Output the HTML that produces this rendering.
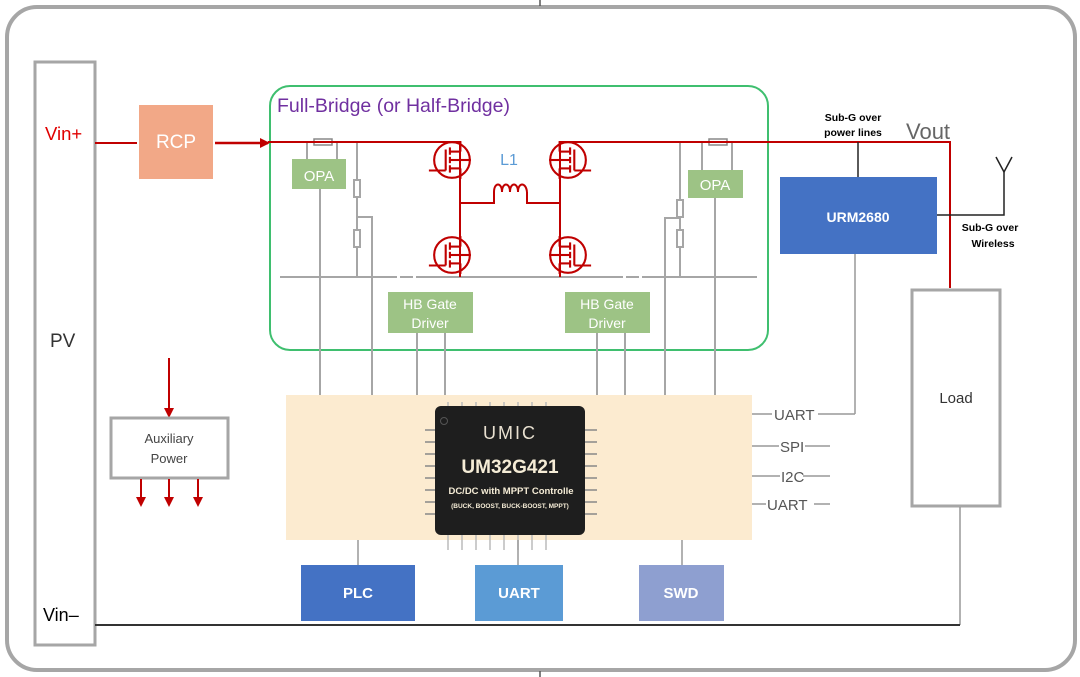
<!DOCTYPE html>
<html><head><meta charset="utf-8"><style>
html,body{margin:0;padding:0;background:#fff;}
svg{display:block;font-family:"Liberation Sans",sans-serif;}
</style></head><body>
<svg width="1080" height="677" viewBox="0 0 1080 677" xmlns="http://www.w3.org/2000/svg">
<defs>
<marker id="ar" markerWidth="10" markerHeight="10" refX="8" refY="5" orient="auto" markerUnits="userSpaceOnUse"><path d="M0,0 L10,5 L0,10 Z" fill="#c00000"/></marker>
<g id="mos" stroke="#c00000" stroke-width="2" fill="none">
<circle cx="0" cy="0" r="17"/>
<line x1="-6" y1="-10" x2="-6" y2="10"/>
<line x1="-2" y1="-12" x2="-2" y2="-5"/><line x1="-2" y1="-3" x2="-2" y2="3"/><line x1="-2" y1="5" x2="-2" y2="12"/>
<line x1="-2" y1="-8" x2="8" y2="-8"/><line x1="-2" y1="8" x2="8" y2="8"/><line x1="-2" y1="0" x2="8" y2="0"/>
<line x1="-6" y1="10" x2="-22" y2="10"/>
<line x1="8" y1="-8" x2="8" y2="-18"/><line x1="8" y1="8" x2="8" y2="18"/><line x1="8" y1="0" x2="18" y2="0"/>
</g>
</defs>
<rect x="7" y="7" width="1068" height="663" rx="30" fill="none" stroke="#a6a6a6" stroke-width="4"/>
<line x1="540" y1="0" x2="540" y2="6" stroke="#555" stroke-width="1.5"/>
<line x1="540" y1="671" x2="540" y2="677" stroke="#555" stroke-width="1.5"/>
<rect x="35" y="62" width="60" height="583" fill="none" stroke="#a6a6a6" stroke-width="3"/>
<text x="50" y="347" font-size="19" fill="#333">PV</text>
<text x="45" y="140" font-size="18.5" fill="#e00000">Vin+</text>
<text x="43" y="621" font-size="18" fill="#000">Vin–</text>
<line x1="95" y1="143" x2="137" y2="143" stroke="#c00000" stroke-width="2"/>
<rect x="139" y="105" width="74" height="74" fill="#f2a887"/>
<text x="176" y="148" font-size="19" fill="#fff" text-anchor="middle">RCP</text>
<line x1="215" y1="143" x2="268" y2="143" stroke="#c00000" stroke-width="2.5" marker-end="url(#ar)"/>
<rect x="270" y="86" width="498" height="264" rx="20" fill="none" stroke="#3fbf6f" stroke-width="2"/>
<text x="277" y="112" font-size="19.5" fill="#7030a0">Full-Bridge (or Half-Bridge)</text>
<g stroke="#a6a6a6" stroke-width="2" fill="none">
<line x1="280" y1="277" x2="397" y2="277"/><line x1="400" y1="277" x2="413" y2="277"/><line x1="416" y1="277" x2="623" y2="277"/><line x1="626" y1="277" x2="639" y2="277"/><line x1="642" y1="277" x2="757" y2="277"/>
<line x1="307" y1="142" x2="307" y2="159"/><line x1="337" y1="142" x2="337" y2="159"/>
<line x1="357" y1="142" x2="357" y2="180"/><rect x="354" y="180" width="6" height="17"/>
<line x1="357" y1="197" x2="357" y2="230"/><rect x="354" y="230" width="6" height="17"/>
<line x1="357" y1="247" x2="357" y2="277"/>
<polyline points="357,217 372,217 372,395"/>
<line x1="320" y1="189" x2="320" y2="395"/>
<line x1="417" y1="333" x2="417" y2="395"/><line x1="445" y1="333" x2="445" y2="395"/>
<line x1="597" y1="333" x2="597" y2="395"/><line x1="625" y1="333" x2="625" y2="395"/>
<line x1="702" y1="142" x2="702" y2="170"/><line x1="732" y1="142" x2="732" y2="170"/>
<line x1="680" y1="142" x2="680" y2="200"/><rect x="677" y="200" width="6" height="17"/>
<line x1="680" y1="217" x2="680" y2="230"/><rect x="677" y="230" width="6" height="17"/>
<line x1="680" y1="247" x2="680" y2="277"/>
<polyline points="680,218 665,218 665,395"/>
<line x1="715" y1="198" x2="715" y2="395"/>
</g>
<rect x="314" y="139" width="18" height="6" fill="#fff" stroke="#888" stroke-width="1.5"/>
<rect x="709" y="139" width="18" height="6" fill="#fff" stroke="#888" stroke-width="1.5"/>
<rect x="292" y="159" width="54" height="30" fill="#9dc385"/>
<text x="319" y="181" font-size="15" fill="#fff" text-anchor="middle">OPA</text>
<rect x="688" y="170" width="55" height="28" fill="#9dc385"/>
<text x="715" y="190" font-size="15" fill="#fff" text-anchor="middle">OPA</text>
<rect x="388" y="292" width="85" height="41" fill="#9dc385"/>
<text x="430" y="309" font-size="14" fill="#fff" text-anchor="middle">HB Gate</text>
<text x="430" y="328" font-size="14" fill="#fff" text-anchor="middle">Driver</text>
<rect x="565" y="292" width="85" height="41" fill="#9dc385"/>
<text x="607" y="309" font-size="14" fill="#fff" text-anchor="middle">HB Gate</text>
<text x="607" y="328" font-size="14" fill="#fff" text-anchor="middle">Driver</text>
<g stroke="#c00000" stroke-width="2" fill="none">
<polyline points="268,142 460,142 460,277"/>
<polyline points="560,277 560,142 950,142 950,288"/>
<polyline points="460,203 494,203 494,192"/>
<polyline points="527,192 527,203 560,203"/>
<path d="M494,192 c0,-10 8,-10 8,0 c0,-10 8,-10 8,0 c0,-10 8,-10 8,0 c0,-10 8,-10 9,0"/>
</g>
<use href="#mos" transform="translate(452,160) scale(1.05)"/>
<use href="#mos" transform="translate(452,255) scale(1.05)"/>
<use href="#mos" transform="translate(568,160) scale(-1.05,1.05)"/>
<use href="#mos" transform="translate(568,255) scale(-1.05,1.05)"/>
<text x="509" y="165" font-size="16" fill="#5b9bd5" text-anchor="middle">L1</text>
<rect x="286" y="395" width="466" height="145" fill="#fcebd0"/>
<g stroke="#bbb" stroke-width="1.5">
<line x1="448" y1="402" x2="448" y2="406"/><line x1="462" y1="402" x2="462" y2="406"/><line x1="476" y1="402" x2="476" y2="406"/><line x1="490" y1="402" x2="490" y2="406"/><line x1="504" y1="402" x2="504" y2="406"/><line x1="518" y1="402" x2="518" y2="406"/><line x1="532" y1="402" x2="532" y2="406"/><line x1="546" y1="402" x2="546" y2="406"/>
<line x1="448" y1="535" x2="448" y2="550"/><line x1="462" y1="535" x2="462" y2="550"/><line x1="476" y1="535" x2="476" y2="550"/><line x1="490" y1="535" x2="490" y2="550"/><line x1="504" y1="535" x2="504" y2="550"/><line x1="518" y1="535" x2="518" y2="550"/><line x1="532" y1="535" x2="532" y2="550"/><line x1="546" y1="535" x2="546" y2="550"/>
</g>
<g stroke="#888" stroke-width="1.5">
<line x1="425" y1="430" x2="435" y2="430"/><line x1="425" y1="442" x2="435" y2="442"/><line x1="425" y1="454" x2="435" y2="454"/><line x1="425" y1="466" x2="435" y2="466"/><line x1="425" y1="478" x2="435" y2="478"/><line x1="425" y1="490" x2="435" y2="490"/><line x1="425" y1="502" x2="435" y2="502"/><line x1="425" y1="514" x2="435" y2="514"/>
<line x1="585" y1="430" x2="597" y2="430"/><line x1="585" y1="442" x2="597" y2="442"/><line x1="585" y1="454" x2="597" y2="454"/><line x1="585" y1="466" x2="597" y2="466"/><line x1="585" y1="478" x2="597" y2="478"/><line x1="585" y1="490" x2="597" y2="490"/><line x1="585" y1="502" x2="597" y2="502"/><line x1="585" y1="514" x2="597" y2="514"/>
</g>
<rect x="435" y="406" width="150" height="129" rx="6" fill="#1e1e1e"/>
<circle cx="444" cy="421" r="3.5" fill="none" stroke="#555"/>
<text x="510" y="439" font-size="18" fill="#e8e0d0" text-anchor="middle" letter-spacing="2">UMIC</text>
<text x="510" y="473" font-size="19" font-weight="bold" fill="#f5ecd6" text-anchor="middle">UM32G421</text>
<text x="511" y="494" font-size="9.5" font-weight="bold" fill="#f5ecd6" text-anchor="middle">DC/DC with MPPT Controlle</text>
<text x="510" y="508" font-size="6.5" font-weight="bold" fill="#f5ecd6" text-anchor="middle">(BUCK, BOOST, BUCK-BOOST, MPPT)</text>
<g stroke="#999" stroke-width="1.5">
<line x1="752" y1="414" x2="772" y2="414"/><line x1="818" y1="414" x2="855" y2="414"/><line x1="855" y1="414" x2="855" y2="254"/>
<line x1="752" y1="446" x2="779" y2="446"/><line x1="805" y1="446" x2="830" y2="446"/>
<line x1="752" y1="476" x2="780" y2="476"/><line x1="803" y1="476" x2="830" y2="476"/>
<line x1="752" y1="504" x2="766" y2="504"/><line x1="814" y1="504" x2="830" y2="504"/>
</g>
<text x="774" y="420" font-size="15" fill="#555">UART</text>
<text x="780" y="452" font-size="15" fill="#555">SPI</text>
<text x="781" y="482" font-size="15" fill="#555">I2C</text>
<text x="767" y="510" font-size="15" fill="#555">UART</text>
<line x1="858" y1="142" x2="858" y2="177" stroke="#222" stroke-width="1.5"/>
<rect x="780" y="177" width="157" height="77" fill="#4472c4"/>
<text x="858" y="222" font-size="14" font-weight="bold" fill="#fff" text-anchor="middle">URM2680</text>
<text x="853" y="121" font-size="10.5" font-weight="bold" fill="#000" text-anchor="middle">Sub-G over</text>
<text x="853" y="136" font-size="10.5" font-weight="bold" fill="#000" text-anchor="middle">power lines</text>
<text x="906" y="139" font-size="22" fill="#666">Vout</text>
<polyline points="937,215 1004,215 1004,172" fill="none" stroke="#222" stroke-width="1.5"/>
<polyline points="996,157 1004,172 1012,157" fill="none" stroke="#222" stroke-width="1.5"/>
<text x="990" y="231" font-size="10.5" font-weight="bold" fill="#000" text-anchor="middle">Sub-G over</text>
<text x="993" y="247" font-size="10.5" font-weight="bold" fill="#000" text-anchor="middle">Wireless</text>
<rect x="912" y="290" width="88" height="216" fill="none" stroke="#a6a6a6" stroke-width="3"/>
<text x="956" y="403" font-size="15" fill="#333" text-anchor="middle">Load</text>
<line x1="960" y1="507" x2="960" y2="625" stroke="#999" stroke-width="1.5"/>
<line x1="95" y1="625" x2="960" y2="625" stroke="#333" stroke-width="2"/>
<g stroke="#999" stroke-width="1.5">
<line x1="358" y1="540" x2="358" y2="565"/><line x1="518" y1="540" x2="518" y2="565"/><line x1="682" y1="540" x2="682" y2="565"/>
</g>
<rect x="301" y="565" width="114" height="56" fill="#4472c4"/>
<text x="358" y="598" font-size="15" font-weight="bold" fill="#fff" text-anchor="middle">PLC</text>
<rect x="475" y="565" width="88" height="56" fill="#5b9bd5"/>
<text x="519" y="598" font-size="15" font-weight="bold" fill="#fff" text-anchor="middle">UART</text>
<rect x="639" y="565" width="85" height="56" fill="#8e9fd0"/>
<text x="681" y="598" font-size="15" font-weight="bold" fill="#fff" text-anchor="middle">SWD</text>
<line x1="169" y1="358" x2="169" y2="416" stroke="#c00000" stroke-width="2" marker-end="url(#ar)"/>
<rect x="111" y="418" width="117" height="60" fill="none" stroke="#a6a6a6" stroke-width="3"/>
<text x="169" y="443" font-size="13" fill="#444" text-anchor="middle">Auxiliary</text>
<text x="169" y="463" font-size="13" fill="#444" text-anchor="middle">Power</text>
<line x1="141" y1="479" x2="141" y2="505" stroke="#c00000" stroke-width="2" marker-end="url(#ar)"/>
<line x1="169" y1="479" x2="169" y2="505" stroke="#c00000" stroke-width="2" marker-end="url(#ar)"/>
<line x1="198" y1="479" x2="198" y2="505" stroke="#c00000" stroke-width="2" marker-end="url(#ar)"/>
</svg>
</body></html>
